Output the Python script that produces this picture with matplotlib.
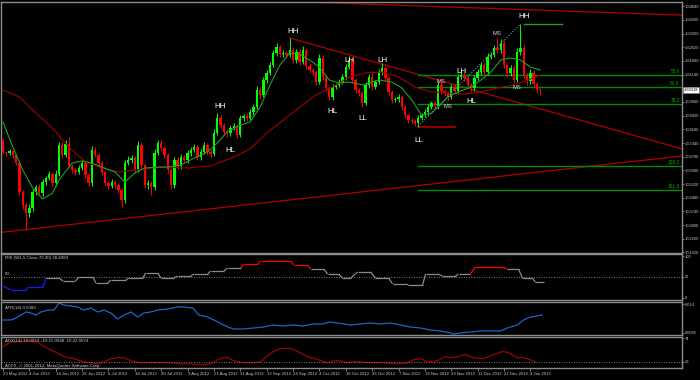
import matplotlib
matplotlib.use('Agg')
import matplotlib.pyplot as plt
import numpy as np
from matplotlib.transforms import blended_transform_factory as btf

plt.rcParams['font.family'] = ['Liberation Sans', 'DejaVu Sans']

# ---------------- data ----------------
first_open = 1.5760
closes = [
    1.5695, 1.5690, 1.5701, 1.5679, 1.5636, 1.5479, 1.5409, 1.5365, 1.5392, 1.5479,
    1.5506, 1.5473, 1.5533, 1.5555, 1.5576, 1.5528, 1.5576, 1.5733, 1.5679, 1.5739,
    1.5620, 1.5598, 1.5587, 1.5609, 1.5636, 1.5571, 1.5528, 1.5706, 1.5679, 1.5636,
    1.5587, 1.5528, 1.5511, 1.5533, 1.5517, 1.5490, 1.5436, 1.5636, 1.5652, 1.5663,
    1.5598, 1.5733, 1.5625, 1.5517, 1.5528, 1.5506, 1.5690, 1.5744, 1.5717, 1.5679,
    1.5598, 1.5517, 1.5652, 1.5620, 1.5668, 1.5652, 1.5690, 1.5706, 1.5722, 1.5668,
    1.5695, 1.5733, 1.5695, 1.5684, 1.5798, 1.5879, 1.5841, 1.5804, 1.5798, 1.5825,
    1.5836, 1.5787, 1.5879, 1.5890, 1.5879, 1.5912, 1.5939, 1.6031, 1.6004, 1.6085,
    1.6123, 1.6166, 1.6231, 1.6263, 1.6225, 1.6231, 1.6220, 1.6247, 1.6193, 1.6236,
    1.6182, 1.6247, 1.6161, 1.6139, 1.6128, 1.6074, 1.6204, 1.6101, 1.6042, 1.5993,
    1.6047, 1.6058, 1.6074, 1.6101, 1.6155, 1.6193, 1.6085, 1.6031, 1.6015, 1.5960,
    1.6058, 1.6101, 1.6047, 1.6074, 1.6128, 1.6150, 1.6096, 1.6020, 1.5977, 1.5982,
    1.5993, 1.5939, 1.5895, 1.5868, 1.5863, 1.5852, 1.5879, 1.5895, 1.5912, 1.5939,
    1.5960, 1.5944, 1.6058, 1.6025, 1.6015, 1.5993, 1.6047, 1.6025, 1.6101, 1.6112,
    1.6096, 1.6058, 1.6042, 1.6096, 1.6128, 1.6166, 1.6128, 1.6209, 1.6220, 1.6258,
    1.6247, 1.6285, 1.6166, 1.6123, 1.6150, 1.6085, 1.6236, 1.6258, 1.6112, 1.6079,
    1.6123, 1.6063, 1.6036, 1.60318,
]
up_wick_pips = [
    10, 8, 12, 6, 9, 14, 10, 12, 20, 16,
    12, 15, 18, 10, 14, 12, 20, 18, 14, 22,
    38, 12, 10, 16, 14, 10, 12, 22, 14, 10,
    12, 8, 10, 14, 12, 10, 8, 16, 20, 14,
    12, 24, 18, 10, 14, 12, 20, 18, 16, 12,
    10, 12, 18, 16, 14, 12, 16, 14, 18, 12,
    14, 18, 12, 10, 20, 27, 14, 12, 10, 16,
    14, 10, 16, 12, 14, 18, 16, 20, 14, 16,
    14, 18, 16, 20, 12, 14, 10, 65, 14, 18,
    16, 20, 12, 14, 10, 12, 22, 14, 10, 12,
    14, 12, 16, 14, 18, 22, 12, 10, 12, 10,
    18, 16, 20, 12, 18, 27, 14, 10, 12, 10,
    14, 12, 10, 8, 10, 12, 14, 12, 16, 14,
    12, 10, 24, 16, 14, 12, 18, 14, 16, 20,
    14, 12, 10, 16, 14, 18, 14, 20, 16, 18,
    54, 20, 14, 12, 16, 14, 22, 130, 16, 12,
    20, 18, 12, 8,
]
down_wick_pips = [
    10, 14, 12, 16, 12, 18, 20, 92, 22, 16,
    14, 12, 16, 18, 12, 14, 16, 12, 14, 10,
    12, 14, 16, 12, 10, 14, 18, 14, 12, 16,
    14, 18, 16, 12, 14, 16, 38, 14, 12, 16,
    18, 12, 16, 14, 20, 43, 14, 12, 16, 18,
    14, 22, 16, 14, 18, 12, 14, 16, 12, 18,
    14, 12, 16, 18, 10, 12, 14, 16, 20, 14,
    12, 18, 10, 14, 16, 12, 14, 10, 20, 12,
    14, 10, 12, 14, 16, 18, 14, 12, 16, 14,
    18, 12, 14, 16, 20, 18, 12, 14, 16, 16,
    14, 12, 10, 12, 14, 12, 16, 18, 14, 22,
    12, 14, 16, 12, 10, 14, 16, 18, 14, 12,
    16, 14, 18, 16, 12, 14, 22, 12, 10, 14,
    12, 16, 14, 18, 16, 20, 12, 16, 14, 12,
    16, 18, 20, 14, 12, 16, 18, 14, 12, 10,
    14, 16, 18, 20, 14, 16, 12, 14, 18, 20,
    16, 18, 20, 27,
]

# moving averages (bar index, price)
fast_ma_bars = [0, 3, 6, 9, 12, 15, 17, 21, 24, 27, 30, 34, 37, 40, 43, 47, 50, 54, 58, 62,
                65, 68, 72, 75, 78, 81, 84, 87, 90, 93, 96, 99, 102, 105, 109, 114, 118, 121,
                124, 127, 130, 132, 135, 138, 142, 145, 148, 151, 154, 157, 160, 163]
fast_ma_vals = [1.5858, 1.5722, 1.5598, 1.5501, 1.5441, 1.5473, 1.5544, 1.5636, 1.5647, 1.5636,
                1.5614, 1.5587, 1.5533, 1.5582, 1.5609, 1.5614, 1.5614, 1.5625, 1.5663, 1.5695,
                1.5744, 1.5804, 1.5841, 1.5858, 1.5939, 1.6058, 1.6166, 1.6231, 1.6225, 1.6193,
                1.6155, 1.6085, 1.6069, 1.6074, 1.6058, 1.6085, 1.6074, 1.6042, 1.5977, 1.5895,
                1.5906, 1.5939, 1.5993, 1.6020, 1.6047, 1.6085, 1.6128, 1.6193, 1.6204, 1.6193,
                1.6155, 1.6139]
slow_ma_bars = [0, 5, 9, 15, 20, 25, 30, 35, 40, 45, 50, 56, 63, 70, 75, 80, 85, 90, 95, 100,
                105, 110, 115, 120, 125, 130, 135, 140, 145, 150, 155, 160, 163]
slow_ma_vals = [1.6031, 1.5993, 1.5923, 1.5825, 1.5722, 1.5641, 1.5609, 1.5587, 1.5598, 1.5609,
                1.5614, 1.5609, 1.5620, 1.5668, 1.5712, 1.5798, 1.5868, 1.5939, 1.6004, 1.6047,
                1.6101, 1.6123, 1.6128, 1.6101, 1.6047, 1.6020, 1.6015, 1.6009, 1.6020, 1.6042,
                1.6058, 1.6090, 1.6112]

# trendlines (bar, price) pairs
trend_top = ([92, 206], [1.6507, 1.6436])
trend_down = ([87, 206], [1.6312, 1.5712])
trend_up = ([-1, 206], [1.5260, 1.5674])
swing_dotted = ([126, 157], [1.5836, 1.6388])
ll_level = ([126, 137], [1.5831, 1.5831])
hh_level = ([158, 169.5], [1.6388, 1.6388])

fib_start = 126
fib_levels = [1.6112, 1.6047, 1.5955, 1.5620, 1.5490]
fib_names = ['50.0', '61.8', '38.2', '138.2', '161.8']

swing_labels = [('HH', 88, 1.6350), ('HH', 66, 1.5939), ('HL', 69, 1.5701), ('HL', 100, 1.5912),
                ('LH', 105, 1.6193), ('LL', 109, 1.5874), ('LH', 115, 1.6193), ('LL', 126, 1.5755),
                ('LH', 139, 1.6133), ('HL', 142, 1.5966), ('HH', 158, 1.6431)]
ms_labels = [('MS', 133, 1.6079), ('MS', 135, 1.5939), ('MS', 150, 1.6339), ('MS', 156, 1.6047)]

price_ticks = [1.51520, 1.52260, 1.53000, 1.53740, 1.54480, 1.55220, 1.55960, 1.56700,
               1.57440, 1.58180, 1.58920, 1.59660, 1.60400, 1.61140, 1.61880, 1.62620,
               1.63360, 1.64100, 1.64840]
last_price = 1.60318

rsi_bars = [0, 2.4, 7, 7.6, 12.1, 13, 17, 18.2, 22, 23, 27.3, 28.2, 31.8, 32.7, 37.3, 38.2, 42.4,
            43.3, 47, 47.9, 51.8, 53, 57, 57.9, 62.1, 63, 67, 68.2, 72.1, 73, 77.3, 78.2, 87.3,
            88.2, 92.4, 93.3, 97.3, 98.5, 101.8, 103, 105.5, 107.6, 111.5, 113, 117, 118.2, 122,
            123, 127.3, 128.2, 132, 133.3, 137.3, 138.2, 141.8, 143.3, 151.8, 153, 156.4, 157.6,
            160.6, 161.5, 164]
rsi_vals = [28.6, 19.0, 19.0, 26.0, 26.0, 47.6, 47.6, 40.5, 40.5, 50.0, 50.0, 35.7, 35.7, 42.9,
            42.9, 47.6, 47.6, 59.5, 59.5, 47.6, 47.6, 52.4, 52.4, 57.1, 57.1, 64.3, 64.3, 71.4,
            71.4, 81.0, 81.0, 88.0, 88.0, 78.6, 78.6, 69.0, 69.0, 57.1, 57.1, 47.6, 47.6, 61.9,
            61.9, 47.6, 47.6, 33.3, 33.3, 31.0, 31.0, 57.1, 57.1, 52.4, 52.4, 57.1, 57.1, 73.8,
            73.8, 69.0, 69.0, 47.6, 47.6, 38.1, 38.1]

atr_bars = [0, 2.4, 3.9, 5.5, 7, 8.5, 10, 11.5, 13.6, 15.5, 17, 18.5, 20.6, 22.7, 24.5, 26.7,
            28.8, 30.6, 32.7, 34.8, 36.7, 38.8, 40.9, 42.7, 44.8, 47, 50, 53, 54.8, 57.6, 59.4,
            62.1, 65.2, 68.2, 70, 73, 76, 79, 82, 85, 88, 91, 94, 97, 99, 101.5, 105.5, 108.5,
            111.5, 114.5, 117.6, 120.6, 123.6, 126.7, 129.7, 132.7, 135.8, 136.7, 138.8, 141.8,
            144.8, 147.9, 150.9, 153, 156, 157.9, 160, 162, 163.6]
atr_vals = [0.01096, 0.01096, 0.01134, 0.01191, 0.01248, 0.01229, 0.01191, 0.01248, 0.01286,
            0.01286, 0.01419, 0.01381, 0.01362, 0.01343, 0.01286, 0.01324, 0.01248, 0.01286,
            0.01229, 0.01115, 0.01191, 0.01248, 0.01153, 0.01229, 0.01248, 0.01286, 0.01305,
            0.01343, 0.01343, 0.01324, 0.01191, 0.01153, 0.01058, 0.00963, 0.00925, 0.00925,
            0.00944, 0.00963, 0.01001, 0.00982, 0.01001, 0.00982, 0.01020, 0.01020, 0.01058,
            0.01039, 0.01001, 0.01020, 0.01039, 0.01020, 0.01039, 0.01001, 0.00963, 0.00944,
            0.00906, 0.00887, 0.00849, 0.00830, 0.00849, 0.00868, 0.00887, 0.00887, 0.00887,
            0.00944, 0.01001, 0.01096, 0.01153, 0.01172, 0.01191]

adx_bars = [0, 2.4, 5.5, 8.5, 10.6, 12.4, 15.5, 18.5, 21.5, 24.5, 26.7, 28.8, 30.6, 32.7, 34.8,
            36.7, 38.8, 41.8, 44.8, 47.9, 50.9, 53.9, 57, 60, 63, 65.2, 66.7, 68.2, 70, 73, 76,
            78.2, 80.3, 82.1, 84.2, 87.3, 89.4, 92.4, 95.5, 98.5, 100.3, 102.4, 104.5, 105.5,
            108.5, 111.5, 115.5, 119.7, 122.7, 124.5, 126.7, 128.8, 131.8, 134.2, 135.8, 137.9,
            140.3, 142.7, 145.8, 148.8, 151.5, 153.3, 156, 157.9, 160, 161.5]
adx_vals = [55.3, 64.7, 67.0, 67.0, 64.7, 55.3, 43.5, 31.8, 27.1, 20.0, 17.7, 15.3, 20.0, 27.1,
            29.4, 29.4, 22.4, 17.7, 17.7, 17.7, 17.7, 15.3, 15.3, 13.0, 15.3, 24.7, 29.4, 29.4,
            22.4, 17.7, 17.7, 20.0, 34.1, 43.5, 50.6, 50.6, 43.5, 31.8, 24.7, 17.7, 22.4, 22.4,
            17.7, 20.0, 20.0, 17.7, 17.7, 15.3, 17.7, 24.7, 27.1, 20.0, 22.4, 31.8, 29.4, 31.8,
            36.5, 29.4, 27.1, 36.5, 43.5, 41.2, 29.4, 29.4, 24.7, 20.0]

date_labels = ['23 May 2012', '4 Jun 2012', '14 Jun 2012', '26 Jun 2012', '6 Jul 2012',
               '18 Jul 2012', '30 Jul 2012', '9 Aug 2012', '21 Aug 2012', '31 Aug 2012',
               '12 Sep 2012', '24 Sep 2012', '4 Oct 2012', '16 Oct 2012', '26 Oct 2012',
               '7 Nov 2012', '19 Nov 2012', '29 Nov 2012', '11 Dec 2012', '21 Dec 2012',
               '4 Jan 2013']
date_bars = [8 * i for i in range(len(date_labels))]

# ---------------- figure ----------------
W, H = 700, 380
fig = plt.figure(figsize=(W / 100, H / 100), dpi=100, facecolor='black')
AXC = '#8c8c8c'
TXT = '#c8c8c8'
XL = (-0.6, 206)

def mk(top, bottom):
    ax = fig.add_axes([1 / W, 1 - bottom / H, 681 / W, (bottom - top) / H])
    ax.set_facecolor('black')
    for s in ax.spines.values():
        s.set_color(AXC)
        s.set_linewidth(1.0)
    ax.yaxis.tick_right()
    ax.tick_params(axis='y', colors=AXC, labelcolor=TXT, labelsize=2.9, length=1.5, width=0.6, pad=0.8)
    ax.set_xlim(*XL)
    ax.set_xticks([])
    return ax

ax = mk(2, 253)
rsi = mk(254, 300)
atr = mk(302, 335)
adx = mk(337, 368)

# ---------- main panel ----------
ax.set_ylim(1.5149, 1.6507)
o = np.array([first_open] + closes[:-1])
c = np.array(closes)
idx = np.arange(len(c))
hi = np.maximum(o, c) + np.array(up_wick_pips) / 1e4
lo = np.minimum(o, c) - np.array(down_wick_pips) / 1e4
cols = np.where(c >= o, '#00ff00', '#ff0000')
ax.vlines(idx, lo, hi, colors=cols, lw=0.7, zorder=3)
ax.bar(idx, np.maximum(np.abs(c - o), 0.0002), bottom=np.minimum(o, c), width=0.72,
       color=cols, linewidth=0, zorder=4)

ax.plot(slow_ma_bars, slow_ma_vals, color='#a00000', lw=0.8, zorder=5)
ax.plot(fast_ma_bars, fast_ma_vals, color='#1fa01f', lw=0.8, zorder=5)

for xs, ys in (trend_top, trend_down, trend_up):
    ax.plot(xs, ys, color='#b00000', lw=0.9, zorder=2)
ax.plot(*swing_dotted, color='#4d9aa8', lw=0.8, ls=(0, (1, 1.5)), zorder=6)
ax.plot(*ll_level, color='#900000', lw=1.4, zorder=2)
ax.plot(*hh_level, color='#1fa01f', lw=1.0, zorder=2)

for lv, nm in zip(fib_levels, fib_names):
    ax.plot([fib_start, XL[1]], [lv, lv], color='#008c00', lw=1.0, zorder=2)
    ax.text(205.3, lv + 0.0004, nm, color='#00b000', fontsize=3.4, ha='right', va='bottom', zorder=7)

for t, b, p in swing_labels:
    ax.text(b, p, t, color='white', fontsize=5.8, ha='center', va='center', zorder=8)
for t, b, p in ms_labels:
    ax.text(b, p, t, color='#d8d8d8', fontsize=4.2, ha='center', va='center', zorder=8)

ax.set_yticks(price_ticks)
ax.set_yticklabels([f'{v:.5f}' for v in price_ticks])
ax.text(1.002, last_price, f'{last_price:.5f}', transform=btf(ax.transAxes, ax.transData),
        fontsize=2.9, color='black', ha='left', va='center', clip_on=False, zorder=10,
        bbox=dict(fc='white', ec='#808080', lw=0.4, pad=0.5))

# ---------- RSI ----------
rsi.set_ylim(-4.8, 104.8)
for i in range(len(rsi_bars) - 1):
    a, b2 = rsi_vals[i], rsi_vals[i + 1]
    if max(a, b2) > 72:
        col = '#ff0000'
    elif min(a, b2) < 30:
        col = '#1a1aff'
    else:
        col = '#8a8a8a'
    rsi.plot(rsi_bars[i:i + 2], rsi_vals[i:i + 2], color=col, lw=0.9,
             solid_capstyle='butt')
rsi.axhline(50, color='#a0a0a0', lw=0.6, ls=(0, (1, 2)))
rsi.set_yticks([0, 50, 100])
rsi.set_yticklabels(['0', '50', '100'])
rsi.text(0.6, 96, 'RSI (W1,5,Close,70,30) 38.4983', color=TXT, fontsize=3.2, ha='left', va='center')
rsi.text(0.6, 57, '50', color=TXT, fontsize=3.2, ha='left', va='center')

# ---------- ATR ----------
atr.set_ylim(0.00811, 0.01438)
atr.plot(atr_bars, atr_vals, color='#1e64c8', lw=0.9)
atr.set_yticks([0.0085, 0.014])
atr.set_yticklabels(['0.0085', '0.014'])
atr.text(0.6, 0.0133, 'ATR(14) 0.0083', color=TXT, fontsize=3.2, ha='left', va='center')

# ---------- ADX ----------
adx.set_ylim(5.9, 76.4)
adx.plot(adx_bars, adx_vals, color='#b00000', lw=0.8)
adx.axhline(20, color='#a0a0a0', lw=0.6, ls=(0, (1, 2)))
adx.set_yticks([20, 74])
adx.set_yticklabels(['20', '74'])
adx.text(0.6, 68, 'ADX(14) 19.0034 +DI:21.0948 -DI:22.0074', color=TXT, fontsize=3.2,
         ha='left', va='center')
adx.text(0.6, 11, 'ACFX, \u00a9 2001-2012, MetaQuotes Software Corp.', color=TXT,
         fontsize=3.2, ha='left', va='center')
adx.set_xticks(date_bars)
adx.set_xticklabels(date_labels, ha='left')
adx.tick_params(axis='x', colors=AXC, labelcolor=TXT, labelsize=3.1, length=2, width=0.6, pad=1)

fig.savefig('out.png', dpi=100, facecolor='black')
